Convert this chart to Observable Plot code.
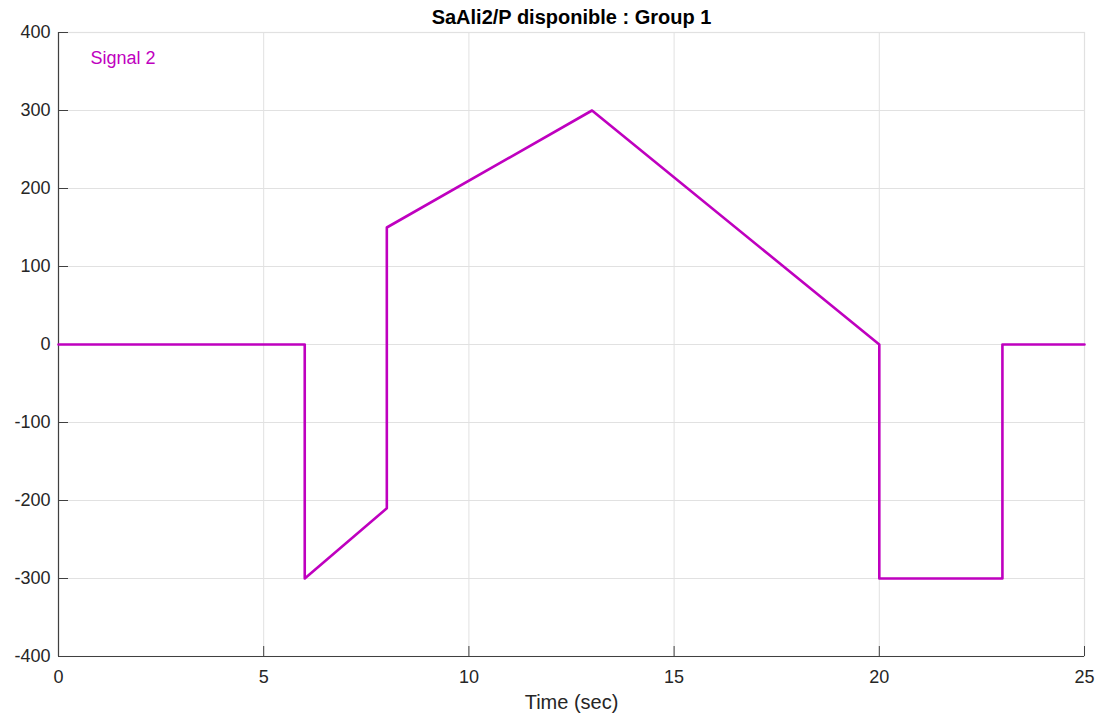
<!DOCTYPE html>
<html>
<head>
<meta charset="utf-8">
<script src="https://cdn.jsdelivr.net/npm/d3@7"></script>
<script src="https://cdn.jsdelivr.net/npm/@observablehq/plot@0.6"></script>
<style>
  html, body { margin: 0; padding: 0; background: #fff; }
  #chart svg { display: block; }
</style>
</head>
<body>
<div id="chart"></div>
<script>
// Signal 2 sample points (time in sec, value)
const timeValues = [0, 6, 6, 8, 8, 13, 20, 20, 23, 23, 25];
const signalValues = [0, 0, -300, -210, 150, 300, 0, -300, -300, 0, 0];
const xTicks = [0, 5, 10, 15, 20, 25];
const yTicks = [-400, -300, -200, -100, 0, 100, 200, 300, 400];
const titleText = "SaAli2/P disponible : Group 1";
const xLabel = "Time (sec)";
const seriesName = "Signal 2";

const data = timeValues.map((t, i) => ({t, v: signalValues[i]}));

const lineColor = "#bf00bf";
const axisColor = "#404040";
const gridColor = "#e1e1e1";
const font = "'Liberation Sans', Arial, Helvetica, sans-serif";
const fmt = d => String(d); // plain hyphen-minus like the reference

const chart = Plot.plot({
  width: 1102,
  height: 718,
  marginLeft: 58,
  marginRight: 18,
  marginTop: 32,
  marginBottom: 62,
  style: {fontFamily: font, fontSize: "18px", color: "#262626", background: "#fff"},
  x: {domain: [0, 25], ticks: xTicks},
  y: {domain: [-400, 400], ticks: yTicks},
  marks: [
    Plot.gridX(xTicks, {stroke: gridColor, strokeOpacity: 1, strokeWidth: 1}),
    Plot.gridY(yTicks, {stroke: gridColor, strokeOpacity: 1, strokeWidth: 1}),
    Plot.frame({stroke: gridColor, strokeWidth: 1.2}),
    Plot.ruleX([0], {stroke: axisColor, strokeWidth: 1.2}),
    Plot.ruleY([-400], {stroke: axisColor, strokeWidth: 1.2}),
    // inward ticks
    Plot.ruleX(xTicks, {y1: -400, y2: -387.2, stroke: axisColor, strokeWidth: 1}),
    Plot.ruleY(yTicks, {x1: 0, x2: 0.244, stroke: axisColor, strokeWidth: 1}),
    Plot.axisX(xTicks, {tickSize: 0, tickPadding: 14, label: null, fontSize: 18, fill: "#262626", tickFormat: fmt}),
    Plot.axisY(yTicks, {tickSize: 0, tickPadding: 8, label: null, fontSize: 18, fill: "#262626", tickFormat: fmt}),
    Plot.line(data, {x: "t", y: "v", stroke: lineColor, strokeWidth: 2.6, curve: "linear"}),
    Plot.text([seriesName], {frameAnchor: "top-left", dx: 32, dy: 26, textAnchor: "start", lineAnchor: "middle", fill: lineColor, fontSize: 18}),
    Plot.text([titleText], {frameAnchor: "top", dy: -15, lineAnchor: "middle", fontWeight: "bold", fontSize: 20, fill: "#000"}),
    Plot.text([xLabel], {frameAnchor: "bottom", dy: 46, lineAnchor: "middle", fontSize: 20, fill: "#262626"})
  ]
});
document.getElementById("chart").appendChild(chart);
</script>
</body>
</html>
